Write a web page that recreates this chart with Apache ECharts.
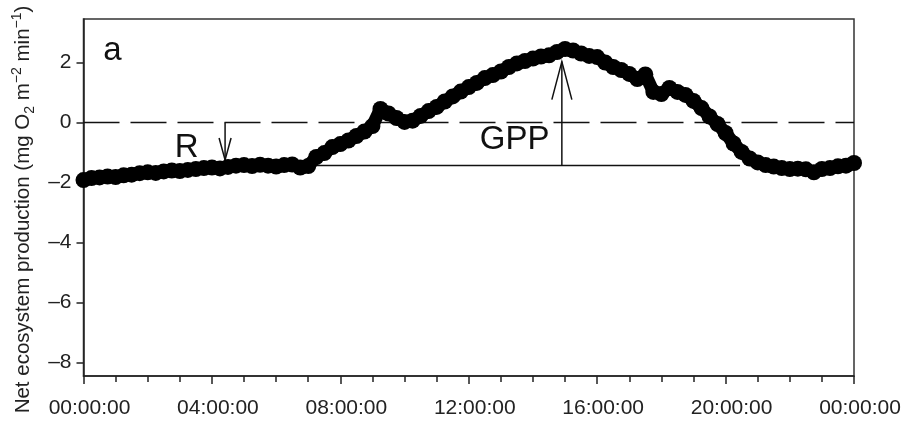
<!DOCTYPE html>
<html>
<head>
<meta charset="utf-8">
<title>NEP</title>
<script src="https://cdn.jsdelivr.net/npm/echarts@6/dist/echarts.min.js"></script>
<style>
html,body{margin:0;padding:0;background:#fff;}
#chart{width:904px;height:422px;}
</style>
</head>
<body>
<div id="chart"></div>
<script>
// time of day in hours, every 15 min
var hours = [0,0.25,0.5,0.75,1,1.25,1.5,1.75,2,2.25,2.5,2.75,3,3.25,3.5,3.75,
	4,4.25,4.5,4.75,5,5.25,5.5,5.75,6,6.25,6.5,6.75,7,7.25,7.5,7.75,
	8,8.25,8.5,8.75,9,9.25,9.5,9.75,10,10.25,10.5,10.75,11,11.25,11.5,11.75,
	12,12.25,12.5,12.75,13,13.25,13.5,13.75,14,14.25,14.5,14.75,15,15.25,15.5,15.75,
	16,16.25,16.5,16.75,17,17.25,17.5,17.75,18,18.25,18.5,18.75,19,19.25,19.5,19.75,
	20,20.25,20.5,20.75,21,21.25,21.5,21.75,22,22.25,22.5,22.75,23,23.25,23.5,23.75,24];
// net ecosystem production (mg O2 m-2 min-1)
var nep = [-1.92,-1.85,-1.83,-1.80,-1.82,-1.76,-1.74,-1.69,-1.66,-1.68,-1.63,-1.60,-1.62,-1.58,-1.55,-1.52,
	-1.50,-1.53,-1.48,-1.44,-1.42,-1.45,-1.41,-1.44,-1.47,-1.42,-1.40,-1.50,-1.45,-1.15,-1.02,-0.82,
	-0.72,-0.60,-0.45,-0.30,-0.12,0.45,0.30,0.15,0.02,0.06,0.22,0.38,0.52,0.70,0.87,1.03,
	1.18,1.32,1.48,1.58,1.70,1.85,1.97,2.05,2.13,2.20,2.24,2.35,2.45,2.40,2.30,2.22,
	2.18,2.00,1.85,1.75,1.62,1.45,1.60,1.02,0.95,1.15,1.02,0.92,0.72,0.48,0.20,-0.05,
	-0.35,-0.70,-0.98,-1.20,-1.33,-1.42,-1.47,-1.52,-1.55,-1.54,-1.56,-1.66,-1.55,-1.52,-1.46,-1.44,-1.35];
var yTicks = [-8,-6,-4,-2,0,2];
var xTicks = [0,4,8,12,16,20,24];

// annotations (data coords)
var zeroLine = [[0,0],[24,0]];
var baseLine = [[6.9,-1.43],[20.45,-1.43]];
var rArrow = [[4.41,0],[4.41,-1.25]];
var gppArrow = [[14.9,-1.43],[14.9,2.03]];
var notes = [['a',0.9,2.37],['R',3.21,-0.86],['GPP',13.43,-0.59]];

var seriesData = [];
for(var i = 0; i < hours.length; i++){
	seriesData.push([hours[i], nep[i]]);
}

function fmtTime(v){
	var h = v % 24;
	return (h < 10 ? '0' : '') + h + ':00:00';
}

function drawNotes(params, api){
	var kids = [];
	var ink = '#111';
	function pt(p){ return api.coord(p); }
	function seg(a, b, dash){
		kids.push({type:'line', shape:{x1:a[0],y1:a[1],x2:b[0],y2:b[1]},
			style:{stroke:ink, lineWidth:1.5, lineDash:dash||null}});
	}
	// open arrow head, tip at p, pointing up (dir=-1) or down (dir=1)
	function head(p, len, half, dir){
		kids.push({type:'polyline', shape:{points:[[p[0]-half,p[1]-dir*len],[p[0],p[1]],[p[0]+half,p[1]-dir*len]]},
			style:{stroke:ink, lineWidth:1.5, fill:null}});
	}
	seg(pt(zeroLine[0]), pt(zeroLine[1]), [36,11]);
	seg(pt(baseLine[0]), pt(baseLine[1]));
	var r0 = pt(rArrow[0]), r1 = pt(rArrow[1]);
	seg(r0, r1);
	head(r1, 22, 6, 1);
	var g0 = pt(gppArrow[0]), g1 = pt(gppArrow[1]);
	seg(g0, g1);
	head(g1, 38, 10, -1);
	for(var k = 0; k < notes.length; k++){
		var c = pt([notes[k][1], notes[k][2]]);
		kids.push({type:'text', x:c[0], y:c[1],
			style:{text:notes[k][0], fill:'#111', font:'33px "Liberation Sans", Arial, sans-serif',
				align:'center', verticalAlign:'middle'}});
	}
	return {type:'group', children:kids};
}

var myChart = echarts.init(document.getElementById('chart'), null, {renderer:'canvas'});
var fam = '"Liberation Sans", Arial, sans-serif';
var option = {
	animation: false,
	backgroundColor: '#fff',
	grid: {left:83.5, right:50, top:19, bottom:46, outerBoundsMode:'none', containLabel:false,
		show:true, borderColor:'#333', borderWidth:1.5},
	xAxis: {
		type: 'value', min: 0, max: 24, interval: 4,
		axisLine: {onZero:false, lineStyle:{color:'#222', width:1.5}},
		axisTick: {length:8, lineStyle:{color:'#222', width:1.5}},
		minorTick: {show:true, splitNumber:4, length:6, lineStyle:{color:'#222', width:1.5}},
		splitLine: {show:false},
		axisLabel: {customValues:xTicks, margin:22, color:'#222', fontSize:21, fontFamily:fam,
			padding:[0,0,0,12], formatter:fmtTime}
	},
	yAxis: {
		type: 'value', min: -8.45, max: 3.45,
		axisLine: {lineStyle:{color:'#222', width:1.5}},
		axisTick: {length:7, customValues:yTicks, lineStyle:{color:'#222', width:1.5}},
		splitLine: {show:false},
		axisLabel: {customValues:yTicks, margin:12, color:'#222', fontSize:21, fontFamily:fam,
			formatter:function(v){ return String(v).replace('-', '\u2013'); }},
		name: '{t|Net ecosystem production (mg O}{sub|2}{t| m}{sup|\u22122}{t| min}{sup|\u22121}{t|)}',
		nameLocation: 'middle',
		nameGap: 39,
		nameRotate: 90,
		nameTextStyle: {
			padding: [0,24,0,0],
			rich: {
				t: {fontSize:20.5, lineHeight:27, color:'#222', fontFamily:fam},
				sub: {fontSize:14, lineHeight:14, color:'#222', fontFamily:fam, verticalAlign:'bottom'},
				sup: {fontSize:14, lineHeight:14, color:'#222', fontFamily:fam, verticalAlign:'top'}
			}
		}
	},
	series: [
		{
			type: 'custom',
			coordinateSystem: 'cartesian2d',
			data: [[0,0]],
			renderItem: drawNotes,
			silent: true,
			z: 1
		},
		{
			type: 'line',
			data: seriesData,
			symbol: 'circle',
			symbolSize: 16,
			showSymbol: true,
			itemStyle: {color:'#000'},
			lineStyle: {color:'#000', width:13},
			z: 3
		}
	]
};
myChart.setOption(option);
</script>
</body>
</html>
